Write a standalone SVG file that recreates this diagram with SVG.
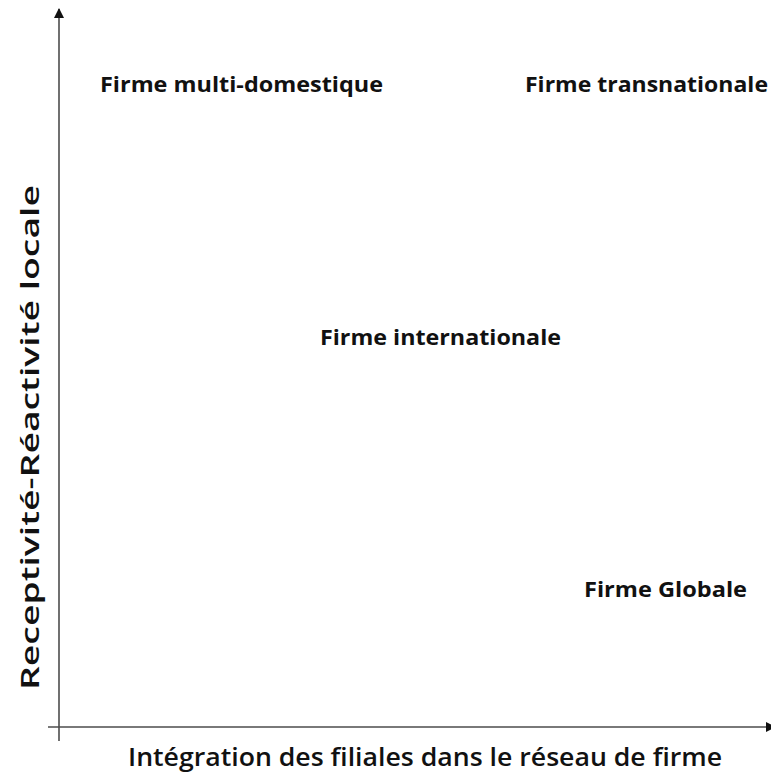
<svg xmlns="http://www.w3.org/2000/svg" width="771" height="774" viewBox="0 0 771 774">
  <style>
    .axis { stroke: #4d4d4d; stroke-width: 1.6; fill: none; }
    .quad { font-family: "Open Sans", "Noto Sans", sans-serif; font-weight: 700; font-size: 21.5px; fill: #111; }
    .title { font-family: "Open Sans", "Noto Sans", sans-serif; font-weight: 600; font-size: 26px; fill: #111; }
  </style>
  <defs>
    <marker id="arrow" viewBox="0 0 10 10" refX="9" refY="5" markerWidth="10" markerHeight="10" markerUnits="userSpaceOnUse" orient="auto">
      <path d="M0,0 L10,5 L0,10 Z" fill="#111"/>
    </marker>
  </defs>
  <rect width="771" height="774" fill="#ffffff"/>

  <g id="connectors">
    <!-- vertical axis -->
    <line class="axis" x1="59" y1="741" x2="59" y2="9" marker-end="url(#arrow)"/>
    <!-- horizontal axis -->
    <line class="axis" x1="48" y1="727" x2="775" y2="727" marker-end="url(#arrow)"/>
  </g>

  <g id="multi-domestique">
    <text class="quad" x="100" y="92" textLength="283" lengthAdjust="spacingAndGlyphs">Firme multi-domestique</text>
  </g>
  <g id="transnationale">
    <text class="quad" x="525" y="92" textLength="243" lengthAdjust="spacingAndGlyphs">Firme transnationale</text>
  </g>
  <g id="internationale">
    <text class="quad" x="320" y="345" textLength="241" lengthAdjust="spacingAndGlyphs">Firme internationale</text>
  </g>
  <g id="globale">
    <text class="quad" x="584" y="597" textLength="163" lengthAdjust="spacingAndGlyphs">Firme Globale</text>
  </g>

  <g id="axis-labels">
    <text class="title" x="128" y="766" textLength="594" lengthAdjust="spacingAndGlyphs">Intégration des filiales dans le réseau de firme</text>
    <text class="title" transform="translate(39,690) rotate(-90)" x="0" y="0" textLength="505" lengthAdjust="spacingAndGlyphs">Receptivité-Réactivité locale</text>
  </g>
</svg>
